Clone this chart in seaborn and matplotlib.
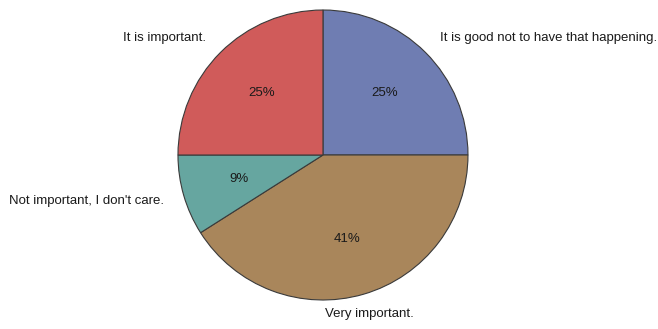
import matplotlib
matplotlib.use("Agg")
import matplotlib.pyplot as plt
import seaborn as sns

categories = ["It is good not to have that happening.", "Very important.",
              "Not important, I don't care.", "It is important."]
values = [25, 41, 9, 25]
colors = ["#6F7DB2", "#A9865B", "#66A6A0", "#D05B5A"]

sns.set_theme(style="white")
plt.rcParams['font.family'] = ['Liberation Sans', 'DejaVu Sans']

fig = plt.figure(figsize=(6.58, 3.29), dpi=100)
ax = fig.add_axes([0.2705, 0.0881, 0.4407, 0.8815])
wedges, texts, autotexts = ax.pie(
    values, labels=categories, colors=colors, startangle=90, counterclock=False,
    autopct=lambda p: f"{p:.0f}%", pctdistance=0.6, labeldistance=1.14,
    wedgeprops=dict(edgecolor="#3a3a3a", linewidth=0.8),
    textprops=dict(fontsize=9.5, color="#1a1a1a"))
texts[1].set_ha("center")
ax.set_xlim(-1, 1)
ax.set_ylim(-1, 1)
ax.set_aspect("equal")
ax.axis("off")
fig.savefig("out.png", dpi=100, facecolor="white")
